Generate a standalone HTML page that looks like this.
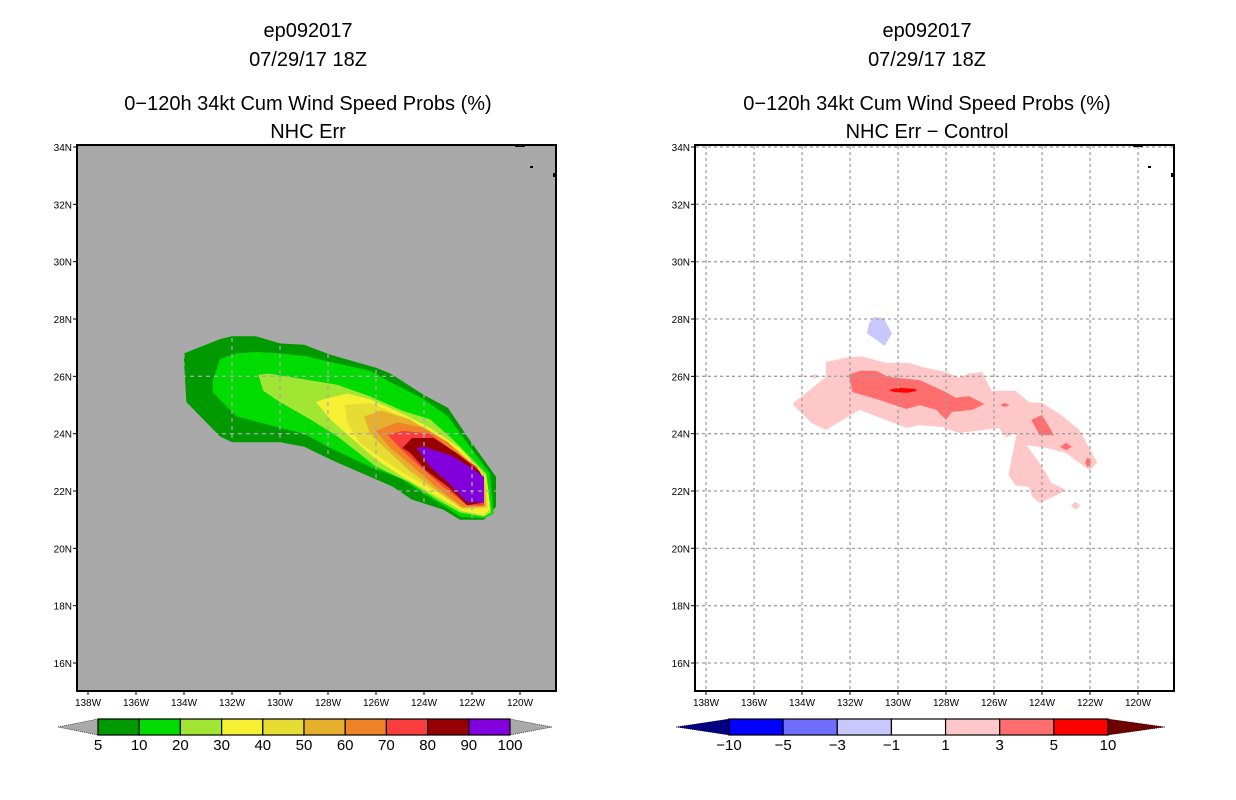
<!DOCTYPE html>
<html><head><meta charset="utf-8"><style>
html,body{margin:0;padding:0;background:#fff;}
svg{display:block;font-family:"Liberation Sans",sans-serif;}
</style></head><body>
<svg id="chart" width="1236" height="800" viewBox="0 0 1236 800" xmlns="http://www.w3.org/2000/svg">
<g id="titles" font-size="20" text-anchor="middle" fill="#000">
<text x="308" y="37">ep092017</text>
<text x="308" y="66">07/29/17 18Z</text>
<text x="308" y="110">0−120h 34kt Cum Wind Speed Probs (%)</text>
<text x="308" y="138">NHC Err</text>
<text x="927" y="37">ep092017</text>
<text x="927" y="66">07/29/17 18Z</text>
<text x="927" y="110">0−120h 34kt Cum Wind Speed Probs (%)</text>
<text x="927" y="138">NHC Err − Control</text>
</g>
<g id="left"></g>
<g id="right"></g>
<g id="cbars"></g>
</svg>
<script>
const NS="http://www.w3.org/2000/svg";
const lonTicks=[-138,-136,-134,-132,-130,-128,-126,-124,-122,-120];
const latTicks=[16,18,20,22,24,26,28,30,32,34];
const leftLevels=[5,10,20,30,40,50,60,70,80,90,100];
const leftColors=["#009900","#00dc00","#a0e632","#f5f032","#e6dc32","#e6af2d","#f08228","#fa3c3c","#960000","#8200dc"];
const rightLevels=[-10,-5,-3,-1,1,3,5,10];
const rightColors=["#000080","#0000ff","#6e6eff","#c8c8ff","#ffffff","#ffc8c8","#ff6e6e","#ff0000","#6e0000"];
const prob5=[[-134.0,26.8],[-132.5,27.3],[-132.0,27.4],[-131.0,27.4],[-130.0,27.15],[-129.0,27.1],[-127.9,26.75],[-126.0,26.3],[-125.4,26.1],[-124.0,25.35],[-123.0,24.9],[-122.2,23.9],[-121.0,22.5],[-121.0,21.45],[-121.5,21.0],[-122.5,21.0],[-123.2,21.35],[-124.5,21.7],[-125.3,22.15],[-126.25,22.5],[-127.9,23.1],[-129.0,23.55],[-130.0,23.7],[-132.0,23.7],[-132.5,23.9],[-133.2,24.5],[-133.9,25.1],[-134.0,26.5]];
const prob10=[[-132.8,25.87],[-132.5,26.6],[-131.8,26.8],[-131.0,26.85],[-130.0,26.8],[-128.9,26.7],[-127.9,26.5],[-126.25,26.2],[-125.4,25.8],[-124.0,25.2],[-123.0,24.6],[-122.4,23.9],[-121.25,22.6],[-121.1,21.2],[-121.5,21.05],[-122.5,21.1],[-123.0,21.4],[-124.0,21.9],[-124.9,22.4],[-126.25,22.85],[-127.9,23.5],[-129.0,24.0],[-130.0,24.2],[-131.8,24.6],[-132.4,25.1],[-132.8,25.45]];
const prob20=[[-130.9,26.05],[-130.5,26.1],[-129.0,25.9],[-127.6,25.7],[-126.25,25.3],[-124.9,24.8],[-123.75,24.5],[-122.8,23.8],[-121.4,22.6],[-121.2,21.25],[-121.5,21.1],[-122.5,21.25],[-123.45,21.7],[-124.6,22.3],[-126.0,22.85],[-127.6,23.9],[-128.75,24.5],[-130.0,25.1],[-130.7,25.5]];
const prob30=[[-128.5,25.1],[-128.2,25.2],[-127.2,25.4],[-126.25,25.2],[-124.9,24.7],[-123.75,24.2],[-122.5,23.5],[-121.4,22.5],[-121.25,21.35],[-121.5,21.15],[-122.4,21.3],[-123.45,21.8],[-124.9,22.5],[-126.0,23.1],[-127.1,23.9],[-127.9,24.5]];
const prob40=[[-127.3,25.0],[-126.25,25.07],[-124.9,24.6],[-123.6,24.05],[-122.4,23.3],[-121.4,22.5],[-121.35,21.4],[-122.4,21.35],[-123.45,21.95],[-124.6,22.5],[-125.7,23.1],[-126.7,23.7],[-127.2,24.4]];
const prob50=[[-126.5,24.6],[-125.8,24.8],[-124.6,24.5],[-123.45,23.9],[-122.4,23.2],[-121.5,22.45],[-121.4,21.45],[-122.4,21.4],[-123.45,22.0],[-124.6,22.7],[-125.5,23.4],[-126.25,24.0]];
const prob60=[[-126.0,24.1],[-125.1,24.4],[-124.0,24.2],[-123.0,23.7],[-122.1,23.0],[-121.5,22.4],[-121.5,21.45],[-122.4,21.45],[-123.45,22.1],[-124.6,22.95],[-125.4,23.5]];
const prob70=[[-125.5,23.95],[-124.9,24.1],[-123.75,24.0],[-122.8,23.4],[-121.8,22.85],[-121.5,22.3],[-121.5,21.5],[-122.2,21.5],[-123.2,22.15],[-124.3,22.95],[-125.0,23.5]];
const prob80=[[-124.9,23.5],[-124.5,23.85],[-123.6,23.85],[-122.6,23.3],[-121.7,22.7],[-121.5,22.4],[-121.5,21.6],[-122.2,21.5],[-123.0,22.15],[-123.9,22.7],[-124.6,23.35]];
const prob90=[[-124.3,23.5],[-124.05,23.55],[-122.9,23.25],[-122.1,22.85],[-121.5,22.5],[-121.5,21.6],[-122.2,21.6],[-123.0,22.3],[-123.75,22.85]];
const diffPos1=[[-134.4,25.04],[-133.0,25.98],[-133.0,26.5],[-132.2,26.65],[-131.5,26.7],[-130.5,26.47],[-129.55,26.47],[-129.0,26.33],[-128.0,26.15],[-127.45,25.95],[-127.05,26.1],[-126.5,26.15],[-126.1,25.5],[-125.1,25.5],[-124.55,25.1],[-124.0,25.07],[-123.2,24.65],[-122.45,24.13],[-121.7,23.0],[-122.0,22.73],[-122.45,22.98],[-123.0,23.33],[-123.8,23.5],[-124.65,23.6],[-124.1,22.98],[-123.6,22.28],[-123.0,22.04],[-123.2,21.93],[-124.1,21.58],[-124.4,21.8],[-124.55,22.14],[-125.1,22.2],[-125.4,22.56],[-125.25,23.19],[-125.05,24.02],[-125.5,23.88],[-125.8,24.2],[-127.45,24.02],[-128.15,24.23],[-129.1,24.3],[-129.65,24.2],[-130.25,24.4],[-131.6,24.83],[-133.0,24.13],[-133.6,24.37]];
const diffPos1b=[[-122.8,21.5],[-122.6,21.62],[-122.4,21.48],[-122.6,21.35]];
const diffPos1c=[[-133.65,26.0],[-133.45,26.08],[-133.3,26.0],[-133.45,25.92]];
const diffPos3=[[-132.05,26.05],[-131.6,26.19],[-130.9,26.19],[-130.4,25.98],[-129.1,25.87],[-128.0,25.45],[-127.6,25.25],[-127.05,25.31],[-126.4,25.04],[-126.9,24.83],[-127.75,24.76],[-128.0,24.48],[-128.4,24.83],[-129.1,25.0],[-129.65,24.86],[-130.8,25.18],[-131.9,25.45]];
const diffPos3b=[[-124.45,24.48],[-124.0,24.65],[-123.5,23.95],[-124.1,23.95]];
const diffPos3c=[[-123.25,23.54],[-123.0,23.68],[-122.75,23.54],[-123.0,23.42]];
const diffPos3d=[[-122.2,23.0],[-122.1,23.18],[-121.95,23.0],[-122.1,22.82]];
const diffPos3e=[[-125.75,25.0],[-125.55,25.07],[-125.35,25.0],[-125.55,24.93]];
const diffPos5=[[-130.4,25.52],[-130.0,25.6],[-129.3,25.56],[-129.2,25.5],[-129.6,25.43],[-130.1,25.44]];
const diffNeg1=[[-131.0,28.07],[-130.6,28.03],[-130.25,27.5],[-130.55,27.06],[-131.3,27.5],[-131.2,27.86]];

function mk(tag,attrs,parent){const e=document.createElementNS(NS,tag);for(const k in attrs)e.setAttribute(k,attrs[k]);parent.appendChild(e);return e;}

function panel(gid,x0,bg,gridColor,gridDash,fills){
  const g=document.getElementById(gid);
  const y0=145,w=479,h=546;
  const X=lon=>x0+11+(lon+138)*24;
  const Y=lat=>147+(34-lat)*28.667;
  const bgR=mk('rect',{x:x0,y:y0,width:w,height:h,fill:bg},g);
  
  
  fills.forEach(([poly,col,name])=>{
    const p=mk('polygon',{points:poly.map(([lo,la])=>X(lo).toFixed(1)+','+Y(la).toFixed(1)).join(' '),fill:col},g);
    
    
  });
  const gg=mk('g',{stroke:gridColor,'stroke-width':1.3,'stroke-dasharray':gridDash},g);
  
  
  lonTicks.forEach(l=>mk('line',{x1:X(l),x2:X(l),y1:y0+1,y2:y0+h-1},gg));
  latTicks.forEach(l=>mk('line',{x1:x0+1,x2:x0+w-1,y1:Y(l),y2:Y(l)},gg));
  mk('rect',{x:x0+438,y:y0,width:10,height:2,fill:'#000'},g);
  mk('rect',{x:x0+453,y:y0+21,width:3,height:2,fill:'#000'},g);
  mk('rect',{x:x0+476,y:y0+28,width:2,height:4,fill:'#000'},g);
  const fr=mk('rect',{x:x0,y:y0,width:w,height:h,fill:'none',stroke:'#000','stroke-width':2},g);
  
  
  const ax=mk('g',{'font-size':10,fill:'#000'},g);
  
  
  lonTicks.forEach(l=>{
    mk('line',{x1:X(l),x2:X(l),y1:y0+h,y2:y0+h+4,stroke:'#000'},g);
    const t=mk('text',{x:X(l),y:y0+h+15,'text-anchor':'middle'},ax);t.textContent=Math.abs(l)+'W';
    
    
  });
  latTicks.forEach(l=>{
    mk('line',{x1:x0-4,x2:x0,y1:Y(l),y2:Y(l),stroke:'#000'},g);
    const t=mk('text',{x:x0-5,y:Y(l)+4,'text-anchor':'end'},ax);t.textContent=l+'N';
    
    
  });
}
const probPolys=[prob5,prob10,prob20,prob30,prob40,prob50,prob60,prob70,prob80,prob90];
panel('left',77,'#a9a9a9','#a9a9a9','4,4',probPolys.map((p,i)=>[p,leftColors[i],'prob-contour-'+leftLevels[i]]));
panel('right',695,'#ffffff','#a0a0a0','3,3',[
 [diffNeg1,rightColors[3],'diff-contour-neg1'],
 [diffPos1,rightColors[5],'diff-contour-1'],[diffPos1b,rightColors[5],'diff-contour-1'],[diffPos1c,rightColors[5],'diff-contour-1'],
 [diffPos3,rightColors[6],'diff-contour-3'],[diffPos3b,rightColors[6],'diff-contour-3'],[diffPos3c,rightColors[6],'diff-contour-3'],[diffPos3d,rightColors[6],'diff-contour-3'],[diffPos3e,rightColors[6],'diff-contour-3'],
 [diffPos5,rightColors[7],'diff-contour-5']]);

function colorbar(gname,xTip0,xb0,xb1,xTip1,y0,h,cols,labels,endColL,endColR){
  const g=mk('g',{},document.getElementById('cbars'));
  
  
  const ym=y0+h/2;
  mk('polygon',{points:`${xTip0},${ym} ${xb0},${y0} ${xb0},${y0+h}`,fill:endColL,stroke:'#000','stroke-width':0.6,'stroke-dasharray':'1,1'},g);
  mk('polygon',{points:`${xTip1},${ym} ${xb1},${y0} ${xb1},${y0+h}`,fill:endColR,stroke:'#000','stroke-width':0.6,'stroke-dasharray':'1,1'},g);
  const n=cols.length,sw=(xb1-xb0)/n;
  cols.forEach((c,i)=>{
    const r=mk('rect',{x:xb0+i*sw,y:y0,width:sw,height:h,fill:c,stroke:'#000','stroke-width':1.2},g);
    
    
  });
  labels.forEach((lab,i)=>{
    const t=mk('text',{x:labels.length===n+1?xb0+i*sw:xb0+(i+1)*sw,y:y0+h+15,'text-anchor':'middle','font-size':15},g);
    t.textContent=String(lab).replace('-','−');
    
    
  });
}
colorbar('left-colorbar',58,98,510,552,719,16,leftColors,leftLevels,'#a9a9a9','#a9a9a9');
colorbar('right-colorbar',676,729,1108,1165,719,16,rightColors.slice(1,8),rightLevels,rightColors[0],rightColors[8]);
</script>
</body></html>
